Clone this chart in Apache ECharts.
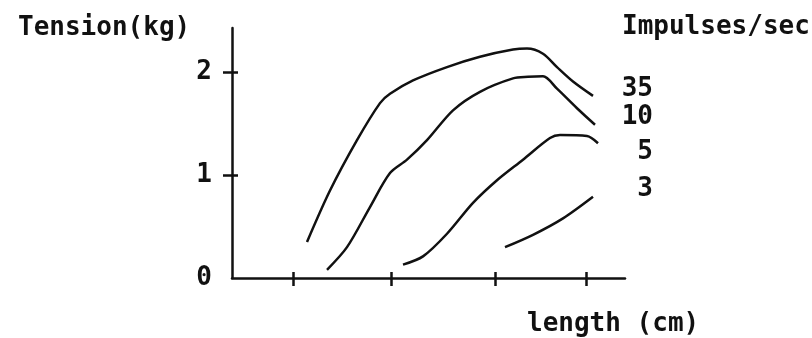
<!DOCTYPE html>
<html>
<head>
<meta charset="utf-8">
<script src="https://cdn.jsdelivr.net/npm/echarts@6/dist/echarts.min.js"></script>
<style>
html,body{margin:0;padding:0;background:#fff;}
#chart{width:812px;height:338px;}
</style>
</head>
<body>
<div id="chart"></div>
<script>
// Tension (kg) vs length for different stimulation rates
var seriesNames = ['35', '10', '5', '3'];
var curve35 = [[0.75,0.35],[0.98,0.85],[1.25,1.34],[1.48,1.70],[1.58,1.79],[1.81,1.92],[2.15,2.05],[2.48,2.15],[2.81,2.22],[2.95,2.23],[3.11,2.18],[3.25,2.05],[3.41,1.91],[3.61,1.77]];
var curve10 = [[0.95,0.08],[1.15,0.30],[1.38,0.69],[1.58,1.02],[1.75,1.15],[1.95,1.34],[2.21,1.63],[2.48,1.81],[2.81,1.94],[2.96,1.955],[3.11,1.96],[3.25,1.84],[3.45,1.65],[3.63,1.49]];
var curve5 = [[1.71,0.13],[1.91,0.21],[2.15,0.43],[2.41,0.73],[2.65,0.95],[2.91,1.15],[3.18,1.36],[3.28,1.39],[3.55,1.38],[3.66,1.31]];
var curve3 = [[2.73,0.30],[3.01,0.42],[3.31,0.58],[3.61,0.79]];
var xTicks = [0.61, 1.59, 2.63, 3.54];
var yTicks = [1, 2];
var yLabels = [0, 1, 2];

var FONT = '"DejaVu Sans Mono", monospace';
var INK = '#111';
var curves = [curve35, curve10, curve5, curve3];
var labelOffsets = [[52, -7], [50, -7], [47, 9], [52, -7]];

var chart = echarts.init(document.getElementById('chart'));
var xCommon = {type: 'value', min: 0, max: 3.93, splitLine: {show: false}};
var yCommon = {type: 'value', min: 0, max: 2.43, splitLine: {show: false}};
chart.setOption({
  backgroundColor: '#fff',
  animation: false,
  title: [
    {text: 'Tension(kg)', left: 18, top: 15, padding: 0, textStyle: {fontFamily: FONT, fontSize: 26, fontWeight: 'bold', color: INK}},
    {text: 'Impulses/sec', left: 622, top: 14, padding: 0, textStyle: {fontFamily: FONT, fontSize: 26, fontWeight: 'bold', color: INK}},
    {text: 'length (cm)', left: 527, top: 311, padding: 0, textStyle: {fontFamily: FONT, fontSize: 26, fontWeight: 'bold', color: INK}}
  ],
  grid: {left: 232, right: 187, top: 28, bottom: 60},
  xAxis: [
    Object.assign({}, xCommon, {
      axisLine: {lineStyle: {color: INK, width: 2.5}},
      axisTick: {show: true, customValues: xTicks, length: 8, lineStyle: {color: INK, width: 2.5}},
      axisLabel: {show: false}
    }),
    Object.assign({}, xCommon, {
      position: 'bottom', offset: 0,
      axisLine: {show: false},
      axisTick: {show: true, inside: true, customValues: xTicks, length: 6, lineStyle: {color: INK, width: 2.5}},
      axisLabel: {show: false}
    })
  ],
  yAxis: [
    Object.assign({}, yCommon, {
      axisLine: {show: true, lineStyle: {color: INK, width: 2.5}},
      axisTick: {show: true, customValues: yTicks, length: 9, lineStyle: {color: INK, width: 2.5}},
      axisLabel: {show: true, customValues: yLabels, margin: 20, padding: [4, 0, 0, 0], fontFamily: FONT, fontSize: 26, fontWeight: 'bold', color: INK}
    }),
    Object.assign({}, yCommon, {
      position: 'left', offset: 0,
      axisLine: {show: false},
      axisTick: {show: true, inside: true, customValues: yTicks, length: 6, lineStyle: {color: INK, width: 2.5}},
      axisLabel: {show: false}
    })
  ],
  series: curves.map(function (d, i) {
    return {
      name: seriesNames[i],
      type: 'line',
      data: d,
      smooth: 0.3,
      showSymbol: false,
      symbol: 'none',
      lineStyle: {color: INK, width: 2.5},
      endLabel: {
        show: true,
        formatter: '{a}',
        align: 'right',
        offset: labelOffsets[i],
        fontFamily: FONT, fontSize: 26, fontWeight: 'bold', color: INK
      }
    };
  })
});
</script>
</body>
</html>
